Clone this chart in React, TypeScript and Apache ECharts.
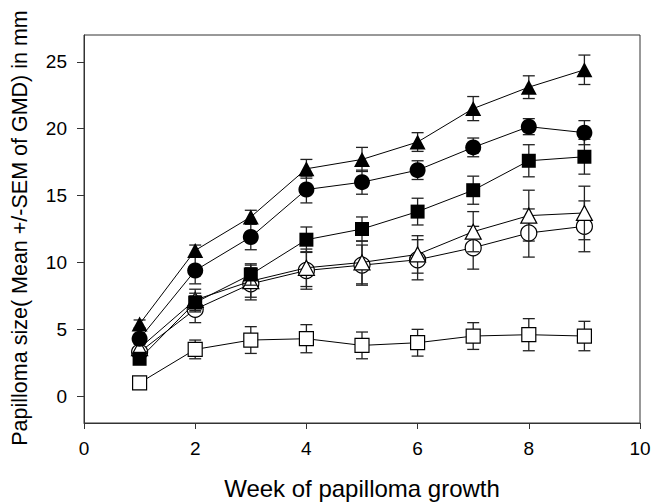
import React, { useEffect, useRef } from "react";
import * as echarts from "echarts";

const weeks = [1, 2, 3, 4, 5, 6, 7, 8, 9];
const yTicks = [0, 5, 10, 15, 20, 25];

const filledTriangle = [5.4, 10.9, 13.4, 17.0, 17.7, 19.0, 21.5, 23.1, 24.4];
const filledTriangleSem = [0.3, 0.4, 0.5, 0.7, 0.9, 0.7, 0.9, 0.85, 1.1];
const filledCircle = [4.3, 9.4, 11.9, 15.45, 16.0, 16.9, 18.6, 20.15, 19.7];
const filledCircleSem = [0.3, 1.0, 0.95, 1.0, 0.9, 0.7, 0.7, 0.6, 0.9];
const filledSquare = [2.8, 7.0, 9.1, 11.7, 12.5, 13.8, 15.4, 17.6, 17.9];
const filledSquareSem = [0.2, 0.7, 0.8, 0.95, 0.9, 1.0, 1.05, 1.2, 1.3];
const openTriangle = [3.6, 7.2, 8.6, 9.6, 10.0, 10.6, 12.3, 13.5, 13.7];
const openTriangleSem = [0.3, 0.8, 1.2, 1.4, 1.6, 1.4, 1.5, 1.9, 2.0];
const openCircle = [3.3, 6.5, 8.4, 9.4, 9.8, 10.2, 11.1, 12.2, 12.7];
const openCircleSem = [0.3, 1.0, 1.2, 1.4, 1.5, 1.5, 1.6, 1.8, 1.9];
const openSquare = [1.0, 3.5, 4.2, 4.3, 3.8, 4.0, 4.5, 4.6, 4.5];
const openSquareSem = [0.1, 0.7, 1.0, 1.05, 1.0, 1.0, 1.0, 1.2, 1.1];

const groups = [
  { name: "openSquare", vals: openSquare, sem: openSquareSem, symbol: "rect", filled: false },
  { name: "openCircle", vals: openCircle, sem: openCircleSem, symbol: "circle", filled: false },
  { name: "openTriangle", vals: openTriangle, sem: openTriangleSem, symbol: "triangle", filled: false },
  { name: "filledSquare", vals: filledSquare, sem: filledSquareSem, symbol: "rect", filled: true },
  { name: "filledCircle", vals: filledCircle, sem: filledCircleSem, symbol: "circle", filled: true },
  { name: "filledTriangle", vals: filledTriangle, sem: filledTriangleSem, symbol: "triangle", filled: true },
];

const AXIS_COLOR = "#333";
const FONT = "Liberation Sans, Arial, sans-serif";

export default function App() {
  const ref = useRef<HTMLDivElement>(null);
  useEffect(() => {
    if (!ref.current) return;
    const chart = echarts.init(ref.current, undefined, { renderer: "svg" });
    const series: any[] = [];
    groups.forEach((g, i) => {
      series.push({
        type: "custom",
        name: g.name + "Err",
        z: 2 + i * 2,
        data: weeks.map((w, k) => [w, g.vals[k] - g.sem[k], g.vals[k] + g.sem[k]]),
        encode: { x: 0, y: [1, 2] },
        silent: true,
        renderItem: (params: any, api: any) => {
          const x = api.value(0);
          const lo = api.coord([x, api.value(1)]);
          const hi = api.coord([x, api.value(2)]);
          const hw = 6;
          const style = { stroke: "#222", lineWidth: 1.3, fill: "none" };
          return {
            type: "group",
            children: [
              { type: "line", shape: { x1: lo[0], y1: lo[1], x2: hi[0], y2: hi[1] }, style },
              { type: "line", shape: { x1: lo[0] - hw, y1: lo[1], x2: lo[0] + hw, y2: lo[1] }, style },
              { type: "line", shape: { x1: hi[0] - hw, y1: hi[1], x2: hi[0] + hw, y2: hi[1] }, style },
            ],
          };
        },
      });
      series.push({
        type: "line",
        name: g.name,
        z: 3 + i * 2,
        data: weeks.map((w, k) => [w, g.vals[k]]),
        symbol: g.symbol,
        symbolSize: g.symbol === "triangle" ? [16, 15] : g.symbol === "circle" ? 16 : 14,
        showAllSymbol: true,
        lineStyle: { color: "#000", width: 1 },
        itemStyle: {
          color: g.filled ? "#000" : "#fff",
          borderColor: "#000",
          borderWidth: g.filled ? 0 : 1.2,
        },
        emphasis: { disabled: true },
      });
    });
    chart.setOption({
      animation: false,
      backgroundColor: "#fff",
      grid: {
        left: 84,
        right: 11,
        top: 35,
        bottom: 79,
        show: true,
        borderColor: AXIS_COLOR,
        borderWidth: 1,
        containLabel: false,
        outerBoundsMode: "none",
      },
      xAxis: {
        type: "value",
        min: 0,
        max: 10,
        interval: 2,
        axisLine: { show: true, onZero: false, lineStyle: { color: AXIS_COLOR, width: 1 } },
        axisTick: { show: true, inside: false, length: 6, lineStyle: { color: AXIS_COLOR } },
        axisLabel: { color: "#000", fontSize: 19, fontFamily: FONT, margin: 16 },
        splitLine: { show: false },
      },
      yAxis: {
        type: "value",
        min: -2,
        max: 27,
        axisLine: { show: true, onZero: false, lineStyle: { color: AXIS_COLOR, width: 1 } },
        axisTick: { show: true, inside: false, length: 7, customValues: yTicks, lineStyle: { color: AXIS_COLOR } },
        axisLabel: { color: "#000", fontSize: 19, fontFamily: FONT, margin: 17, customValues: yTicks },
        splitLine: { show: false },
      },
      graphic: [
        {
          type: "text",
          x: 20,
          y: 228,
          rotation: Math.PI / 2,
          style: {
            text: "Papilloma size( Mean +/-SEM of GMD) in mm",
            fontSize: 21.5,
            fontFamily: FONT,
            fill: "#000",
            align: "center",
            verticalAlign: "middle",
          },
        },
        {
          type: "text",
          x: 362,
          y: 488,
          style: {
            text: "Week of papilloma growth",
            fontSize: 24,
            fontFamily: FONT,
            fill: "#000",
            align: "center",
            verticalAlign: "middle",
          },
        },
      ],
      series,
    });
    return () => chart.dispose();
  }, []);
  return (
    <div
      ref={ref}
      style={{ position: "fixed", left: 0, top: 0, width: 651, height: 502, background: "#fff" }}
    />
  );
}
